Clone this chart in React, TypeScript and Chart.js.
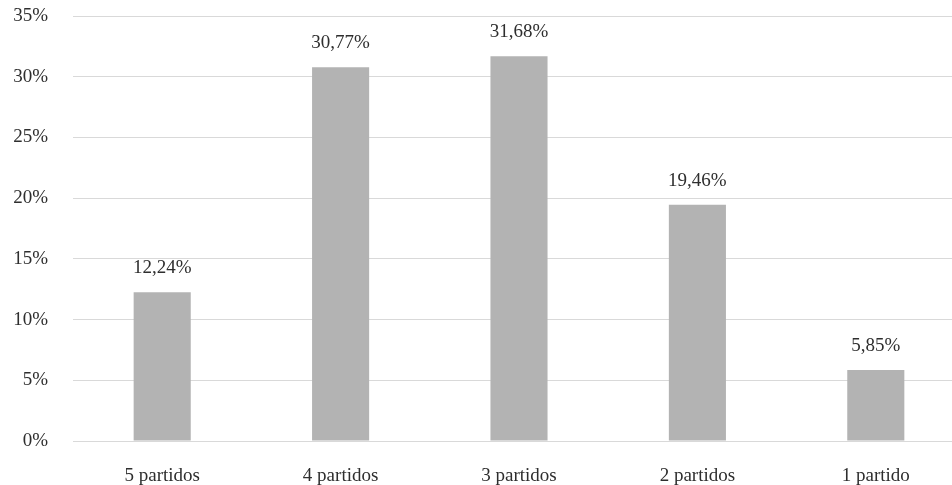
import React, { useEffect, useRef } from "react";
import { Chart, registerables } from "chart.js";

Chart.register(...registerables);

const categories: string[] = ["5 partidos", "4 partidos", "3 partidos", "2 partidos", "1 partido"];
const shares: number[] = [12.24, 30.77, 31.68, 19.46, 5.85];
const yTicks: number[] = [0, 5, 10, 15, 20, 25, 30, 35];

const FONT_FAMILY = "'Liberation Serif', 'DejaVu Serif', serif";
const TEXT_COLOR = "#2e2e2e";
const BAR_COLOR = "#b3b3b3";
const GRID_COLOR = "#d9d9d9";

const fmt = (v: number) => v.toFixed(2).replace(".", ",") + "%";

// Draws the value above each bar
const valueLabels = {
  id: "valueLabels",
  afterDatasetsDraw(chart: any) {
    const ctx = chart.ctx;
    const meta = chart.getDatasetMeta(0);
    const data = chart.data.datasets[0].data as number[];
    ctx.save();
    ctx.font = `19px ${FONT_FAMILY}`;
    ctx.fillStyle = TEXT_COLOR;
    ctx.textAlign = "center";
    ctx.textBaseline = "alphabetic";
    meta.data.forEach((bar: any, i: number) => {
      ctx.fillText(fmt(data[i]), bar.x, bar.y - 19);
    });
    ctx.restore();
  },
};

export default function App() {
  const canvasRef = useRef<HTMLCanvasElement | null>(null);

  useEffect(() => {
    if (!canvasRef.current) return;
    const chart = new Chart(canvasRef.current, {
      type: "bar",
      data: {
        labels: categories,
        datasets: [
          {
            data: shares,
            backgroundColor: BAR_COLOR,
            barPercentage: 0.32,
            categoryPercentage: 1,
          },
        ],
      },
      options: {
        responsive: false,
        animation: false,
        devicePixelRatio: 1,
        layout: { padding: 0 },
        plugins: {
          legend: { display: false },
          tooltip: { enabled: false },
        },
        scales: {
          x: {
            offset: true,
            grid: { display: false },
            border: { display: false },
            ticks: {
              color: TEXT_COLOR,
              font: { family: FONT_FAMILY, size: 19 },
              padding: 16,
              maxRotation: 0,
            },
            afterFit(scale: any) {
              scale.height = 44;
            },
          },
          y: {
            min: 0,
            max: 35,
            afterBuildTicks(scale: any) {
              scale.ticks = yTicks.map((v) => ({ value: v }));
            },
            grid: { color: GRID_COLOR, lineWidth: 1, drawTicks: false },
            border: { display: false },
            ticks: {
              color: TEXT_COLOR,
              font: { family: FONT_FAMILY, size: 19 },
              padding: 25,
              callback: (v: any) => `${v}%`,
            },
            afterFit(scale: any) {
              scale.width = 73;
              scale.paddingTop = 16;
              scale.paddingBottom = 0;
            },
          },
        },
      },
      plugins: [valueLabels],
    });
    return () => chart.destroy();
  }, []);

  return (
    <div
      style={{
        position: "absolute",
        left: 0,
        top: 0,
        width: 952,
        height: 485,
        overflow: "hidden",
        background: "#ffffff",
      }}
    >
      <canvas ref={canvasRef} width={965} height={485} style={{ display: "block" }} />
    </div>
  );
}
